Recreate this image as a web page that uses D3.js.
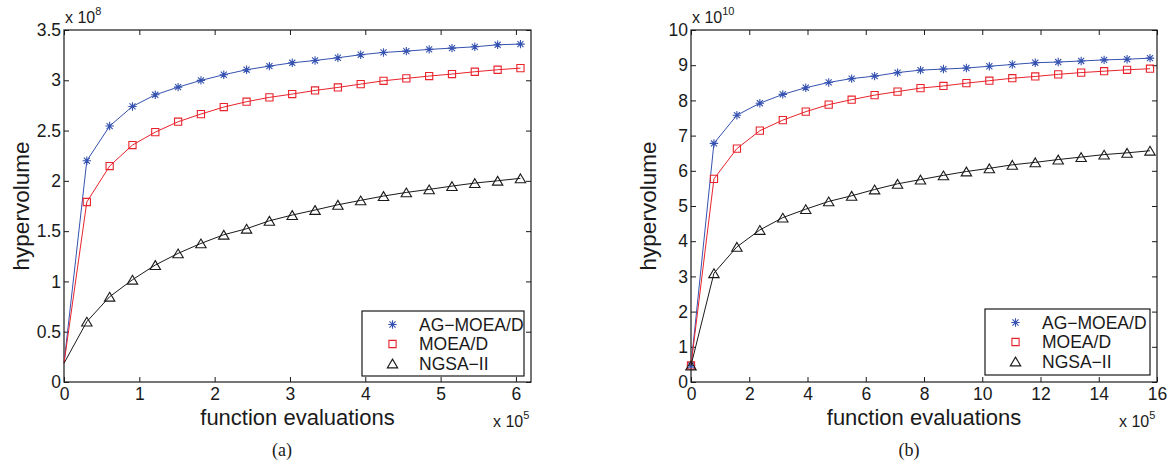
<!DOCTYPE html>
<html>
<head>
<meta charset="utf-8">
<script src="https://cdn.jsdelivr.net/npm/d3@7"></script>
<style>
  html, body { margin: 0; padding: 0; background: #fff; }
  svg { display: block; }
</style>
</head>
<body>
<svg id="chart" width="1172" height="468"></svg>
<script>
// ---------- data (x in units of 1e5 evaluations) ----------
const seriesNames = ["AG\u2212MOEA/D", "MOEA/D", "NGSA\u2212II"];

// panel (a): hypervolume in units of 1e8
const evalsA = [0, 0.303, 0.606, 0.909, 1.212, 1.515, 1.818, 2.121, 2.424, 2.727, 3.03,
                3.333, 3.636, 3.939, 4.242, 4.545, 4.848, 5.151, 5.454, 5.757, 6.06];
const agA    = [0.186, 2.20, 2.545, 2.74, 2.856, 2.932, 2.999, 3.055, 3.105, 3.141, 3.174,
                3.197, 3.224, 3.254, 3.277, 3.29, 3.307, 3.32, 3.333, 3.353, 3.36];
const moeadA = [0.186, 1.79, 2.147, 2.356, 2.485, 2.588, 2.664, 2.734, 2.787, 2.83, 2.863,
                2.899, 2.929, 2.962, 2.995, 3.019, 3.042, 3.062, 3.085, 3.105, 3.121];
const nsgaA  = [0.186, 0.60, 0.848, 1.017, 1.163, 1.279, 1.378, 1.464, 1.524, 1.603, 1.66,
                1.71, 1.762, 1.806, 1.849, 1.885, 1.915, 1.948, 1.978, 2.001, 2.025];
const xTicksA = [0, 1, 2, 3, 4, 5, 6];
const yTicksA = [0, 0.5, 1, 1.5, 2, 2.5, 3, 3.5];

// panel (b): hypervolume in units of 1e10
const evalsB = [0, 0.788, 1.576, 2.364, 3.152, 3.94, 4.728, 5.516, 6.304, 7.092, 7.88,
                8.668, 9.456, 10.244, 11.032, 11.82, 12.608, 13.396, 14.184, 14.972, 15.76];
const agB    = [0.47, 6.78, 7.58, 7.92, 8.17, 8.36, 8.51, 8.62, 8.69, 8.79, 8.86,
                8.89, 8.92, 8.97, 9.02, 9.07, 9.09, 9.12, 9.15, 9.17, 9.20];
const moeadB = [0.47, 5.77, 6.63, 7.14, 7.44, 7.68, 7.88, 8.02, 8.15, 8.25, 8.35,
                8.41, 8.49, 8.56, 8.63, 8.68, 8.74, 8.79, 8.83, 8.87, 8.90];
const nsgaB  = [0.47, 3.09, 3.84, 4.32, 4.67, 4.91, 5.13, 5.29, 5.47, 5.63, 5.75,
                5.87, 5.98, 6.07, 6.17, 6.24, 6.32, 6.39, 6.46, 6.51, 6.57];
const xTicksB = [0, 2, 4, 6, 8, 10, 12, 14, 16];
const yTicksB = [0, 1, 2, 3, 4, 5, 6, 7, 8, 9, 10];

// ---------- styling ----------
const colors = ["#3552b0", "#e8232b", "#1a1a1a"];
const markers = ["star", "square", "triangle"];
const sans = '"Liberation Sans", Arial, Helvetica, sans-serif';
const serif = '"Liberation Serif", "Times New Roman", serif';
const tickFont = 17.5;

const svg = d3.select("#chart");
svg.append("rect").attr("width", 1172).attr("height", 468).attr("fill", "#fff");

function txt(sel) {
  return sel.style("font-family", sans).style("fill", "#1a1a1a");
}

function markerPath(type) {
  if (type === "star") {
    const r = 4.2, d = r * 0.72;
    return `M${-r},0L${r},0M0,${-r}L0,${r}M${-d},${-d}L${d},${d}M${-d},${d}L${d},${-d}`;
  }
  if (type === "square") {
    const s = 3.6;
    return `M${-s},${-s}L${s},${-s}L${s},${s}L${-s},${s}Z`;
  }
  const w = 5.2, h = 4.4;
  return `M0,${-h}L${w},${h}L${-w},${h}Z`;
}

function drawPanel(cfg) {
  const {left, right, top, bottom, xDomain, yDomain, xTicks, yTicks,
         evals, series, firstMarker, yExp, legend, caption} = cfg;
  const x = d3.scaleLinear().domain(xDomain).range([left, right]);
  const y = d3.scaleLinear().domain(yDomain).range([bottom, top]);
  const g = svg.append("g");
  const fmt = d3.format("~g");

  g.append("rect").attr("x", left).attr("y", top)
    .attr("width", right - left).attr("height", bottom - top)
    .attr("fill", "none").attr("stroke", "#1a1a1a").attr("stroke-width", 1.2);

  const axB = d3.axisBottom(x).tickValues(xTicks).tickFormat(fmt).tickSizeInner(-5).tickSizeOuter(0).tickPadding(6);
  const axT = d3.axisTop(x).tickValues(xTicks).tickFormat("").tickSizeInner(-5).tickSizeOuter(0);
  const axL = d3.axisLeft(y).tickValues(yTicks).tickFormat(fmt).tickSizeInner(-5).tickSizeOuter(0).tickPadding(3);
  const axR = d3.axisRight(y).tickValues(yTicks).tickFormat("").tickSizeInner(-5).tickSizeOuter(0);

  [[axB, `translate(0,${bottom})`], [axT, `translate(0,${top})`],
   [axL, `translate(${left},0)`], [axR, `translate(${right},0)`]].forEach(([ax, tr]) => {
    const a = g.append("g").attr("transform", tr).call(ax);
    a.select(".domain").remove();
    a.selectAll("line").attr("stroke", "#1a1a1a").attr("stroke-width", 1);
    txt(a.selectAll("text")).style("font-size", tickFont + "px");
  });

  series.forEach((vals, si) => {
    const pts = evals.map((e, i) => [e, vals[i]]);
    const line = d3.line().x(d => x(d[0])).y(d => y(d[1]));
    g.append("path").datum(pts).attr("d", line)
      .attr("fill", "none").attr("stroke", colors[si]).attr("stroke-width", 1);
    g.selectAll(null).data(pts.slice(firstMarker)).enter().append("path")
      .attr("transform", d => `translate(${x(d[0])},${y(d[1])})`)
      .attr("d", markerPath(markers[si]))
      .attr("fill", "none").attr("stroke", colors[si]).attr("stroke-width", 1.1);
  });

  const ye = txt(g.append("text")).attr("x", left + 1).attr("y", top - 7).style("font-size", "16px");
  ye.append("tspan").text("x 10");
  ye.append("tspan").attr("dy", -8).style("font-size", "11px").text(yExp);

  const xe = txt(g.append("text")).attr("x", right - 38).attr("y", bottom + 45).style("font-size", "16px");
  xe.append("tspan").text("x 10");
  xe.append("tspan").attr("dy", -8).style("font-size", "11px").text("5");

  txt(g.append("text")).attr("x", (left + right) / 2).attr("y", bottom + 43)
    .attr("text-anchor", "middle").style("font-size", "22px").text("function evaluations");
  txt(g.append("text"))
    .attr("transform", `translate(${left - 35},${(top + bottom) / 2}) rotate(-90)`)
    .attr("text-anchor", "middle").style("font-size", "22.5px").text("hypervolume");

  const lg = g.append("g");
  lg.append("rect").attr("x", legend.x).attr("y", legend.y)
    .attr("width", legend.w).attr("height", legend.h)
    .attr("fill", "#fff").attr("stroke", "#1a1a1a").attr("stroke-width", 1.2);
  seriesNames.forEach((name, si) => {
    const cy = legend.y + 13.5 + si * 19.5;
    lg.append("path").attr("transform", `translate(${legend.x + 30.5},${cy})`)
      .attr("d", markerPath(markers[si]))
      .attr("fill", "none").attr("stroke", colors[si]).attr("stroke-width", 1.1);
    txt(lg.append("text")).attr("x", legend.x + 57).attr("y", cy + 6)
      .style("font-size", tickFont + "px").text(name);
  });

  svg.append("text").attr("x", caption.x).attr("y", caption.y)
    .attr("text-anchor", "middle")
    .style("font-size", "18px").style("font-family", serif).style("fill", "#1a1a1a")
    .text(caption.text);
}

drawPanel({
  left: 64, right: 531, top: 30, bottom: 382,
  xDomain: [0, 6.2], yDomain: [0, 3.5], xTicks: xTicksA, yTicks: yTicksA,
  evals: evalsA, series: [agA, moeadA, nsgaA], firstMarker: 1, yExp: "8",
  legend: {x: 362, y: 311, w: 162, h: 65},
  caption: {x: 282, y: 456, text: "(a)"}
});

drawPanel({
  left: 691, right: 1157, top: 30, bottom: 382,
  xDomain: [0, 16], yDomain: [0, 10], xTicks: xTicksB, yTicks: yTicksB,
  evals: evalsB, series: [agB, moeadB, nsgaB], firstMarker: 0, yExp: "10",
  legend: {x: 985, y: 309, w: 165, h: 66},
  caption: {x: 909, y: 456, text: "(b)"}
});
</script>
</body>
</html>
